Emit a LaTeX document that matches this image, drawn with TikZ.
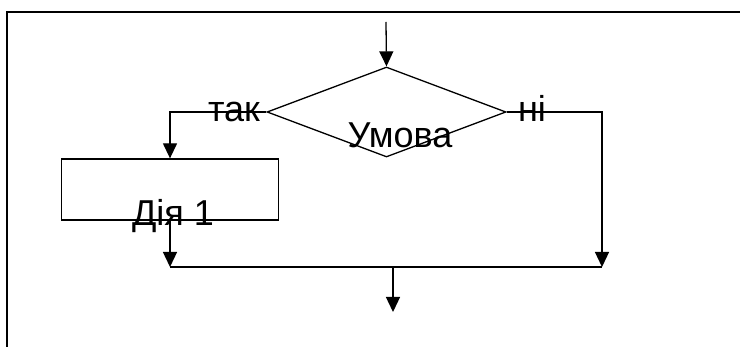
\documentclass[tikz,border=0pt]{standalone}
\usepackage{fontspec}
\setmainfont{Liberation Sans}
\usetikzlibrary{shapes.geometric,arrows.meta}
\begin{document}
\begin{tikzpicture}[x=1pt,y=-1pt,
  line width=1.3pt,
  arr/.style={-{Triangle[length=15pt,width=14pt]}},
  lbl/.style={font=\fontsize{36}{43}\selectfont, inner sep=0pt, anchor=base},
  frame/.style={line width=1.8pt}]
\useasboundingbox (0,0) rectangle (740,347);
\draw[frame] (7,347) -- (7,12) -- (740,12);
\node[draw, diamond, inner sep=0pt, minimum width=239pt, minimum height=90pt] (cond) at (386.5,112) {};
\node[draw, rectangle, inner sep=0pt, minimum width=217pt, minimum height=61pt] (act) at (170,189.5) {};
\coordinate (start) at (386,22);
\coordinate (joinL) at (170,267);
\coordinate (joinR) at (602,267);
\coordinate (joinM) at (393,267);
\coordinate (finish) at (393,312);
\draw[arr] (start) -- (cond.north);
\draw[arr] (cond.west) -| (act.north);
\draw[arr] (act.south) -- (joinL);
\draw[arr] (cond.east) -| (joinR);
\draw (joinL) -- (joinR);
\draw[arr] (joinM) -- (finish);
\node[lbl] (tak) at (234,122) {так};
\node[lbl] (ni) at (532,122) {ні};
\node[lbl] (umova) at (400,148) {Умова};
\node[lbl] (dia) at (173,226) {Дія 1};
\end{tikzpicture}
\end{document}
